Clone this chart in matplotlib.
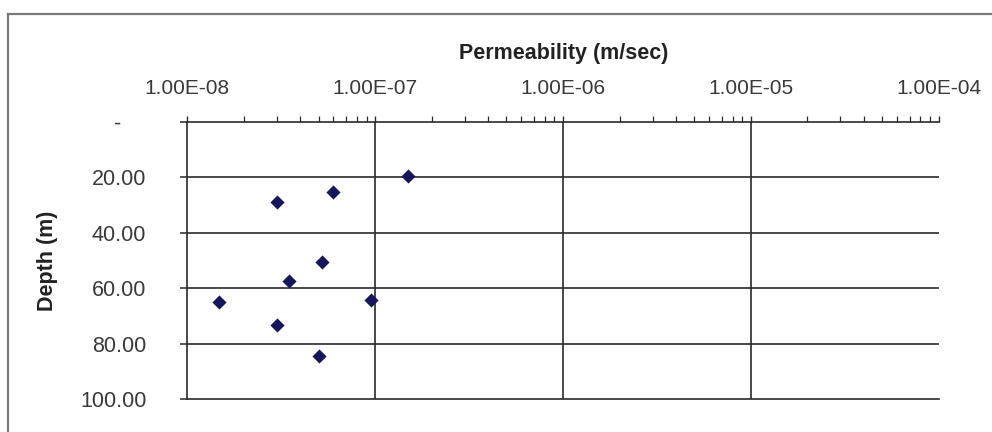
import matplotlib
matplotlib.use("Agg")
import matplotlib.pyplot as plt
import matplotlib.ticker as mticker
from matplotlib.transforms import ScaledTranslation
from matplotlib.lines import Line2D

# ---- data ----
permeability = [1.50e-7, 5.99e-8, 3.02e-8, 5.23e-8, 3.49e-8, 1.48e-8, 9.55e-8, 3.02e-8, 5.05e-8]
depth = [19.6, 25.5, 29.1, 50.4, 57.5, 64.8, 64.3, 73.4, 84.3]
x_ticks = [1e-8, 1e-7, 1e-6, 1e-5, 1e-4]
x_tick_labels = ["1.00E-08", "1.00E-07", "1.00E-06", "1.00E-05", "1.00E-04"]
y_ticks = [0, 20, 40, 60, 80, 100]
y_tick_labels = ["-", "20.00", "40.00", "60.00", "80.00", "100.00"]
x_title = "Permeability (m/sec)"
y_title = "Depth (m)"

plt.rcParams['font.family'] = ['Liberation Sans', 'DejaVu Sans']

W, H = 992, 432
fig = plt.figure(figsize=(W / 100, H / 100), dpi=100)
fig.patch.set_facecolor('white')

left, right, top, bottom = 187.3, 938.7, 121.7, 399.3
ax = fig.add_axes([left / W, 1 - bottom / H, (right - left) / W, (bottom - top) / H])

line_col = '#2a2a2a'
text_col = '#3a3a3a'

ax.scatter(permeability, depth, marker='D', s=52, color='#16165c', zorder=5, linewidths=0)

ax.set_xscale('log')
ax.set_xlim(x_ticks[0], x_ticks[-1])
ax.set_ylim(y_ticks[-1], y_ticks[0])

ax.xaxis.tick_top()
ax.xaxis.set_major_locator(mticker.FixedLocator(x_ticks))
ax.xaxis.set_major_formatter(mticker.FixedFormatter(x_tick_labels))
ax.xaxis.set_minor_locator(mticker.LogLocator(base=10, subs=range(2, 10), numticks=20))
ax.xaxis.set_minor_formatter(mticker.NullFormatter())
ax.set_yticks(y_ticks)
ax.set_yticklabels(y_tick_labels)

ax.tick_params(axis='x', which='major', direction='out', length=4.3, width=1.0,
               color=line_col, pad=12.5, labelsize=15, labelcolor=text_col)
ax.tick_params(axis='x', which='minor', direction='out', length=4.0, width=0.9, color=line_col)
ax.tick_params(axis='y', which='major', direction='out', length=5, width=1.1,
               color=line_col, pad=24.5, labelsize=15.5, labelcolor=text_col)

for s in ['top', 'left', 'bottom']:
    ax.spines[s].set_color(line_col)
    ax.spines[s].set_linewidth(1.2)
ax.spines['right'].set_visible(False)

# major gridlines (interior only, as in the Excel chart)
for xv in x_ticks[1:-1]:
    ax.axvline(xv, color=line_col, linewidth=1.2, zorder=1)
for yv in y_ticks[1:-1]:
    ax.axhline(yv, color=line_col, linewidth=1.2, zorder=1)

# shift the "-" zero label leftwards (Excel accounting format padding)
zero_lbl = ax.get_yticklabels()[0]
zero_lbl.set_transform(zero_lbl.get_transform() + ScaledTranslation(-25 / 100, 0, fig.dpi_scale_trans))

fig.text(564 / W, 1 - 59 / H, x_title, ha='center', va='baseline', fontsize=15.5,
         fontweight='bold', color='#222222')
fig.text(48 / W, 1 - 260.5 / H, y_title, ha='center', va='center', rotation=90,
         fontsize=15.5, fontweight='bold', color='#222222')

# outer chart-area frame
fx, fy = 8.3 / W, 1 - 14 / H
fig.add_artist(Line2D([fx, fx], [-0.05, fy], transform=fig.transFigure, color='#7a7a7a', lw=1.6))
fig.add_artist(Line2D([fx, 1.05], [fy, fy], transform=fig.transFigure, color='#7a7a7a', lw=1.6))

fig.savefig('out.png', dpi=100, facecolor='white')
